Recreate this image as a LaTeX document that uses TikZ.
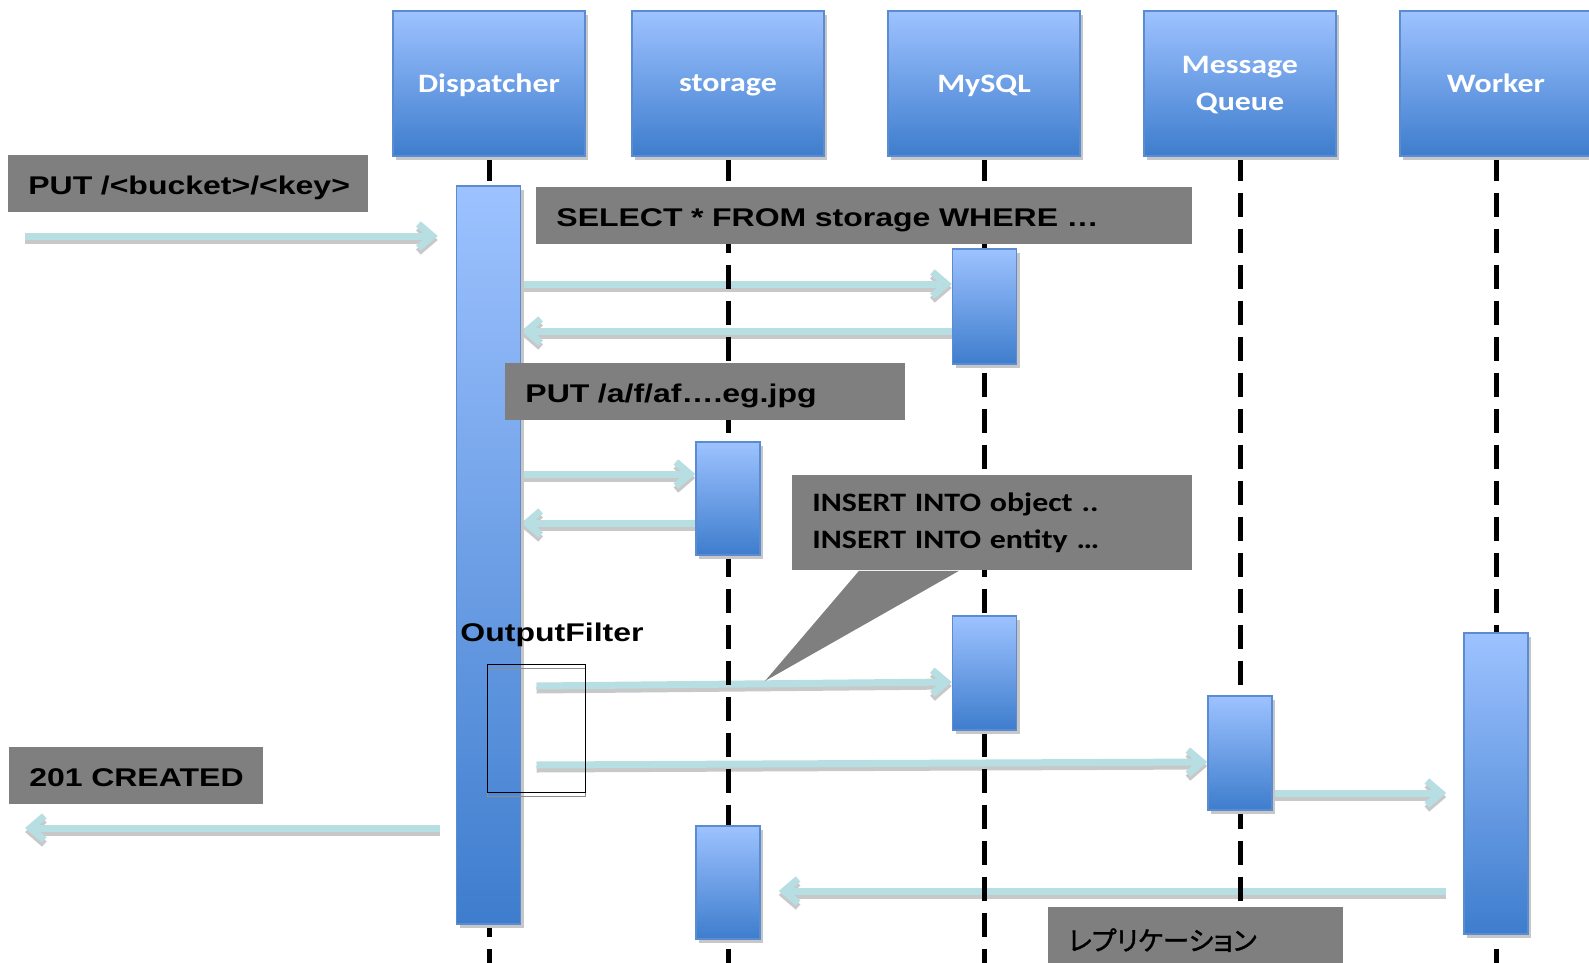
\documentclass[tikz,border=0pt]{standalone}
\usepackage{fontspec}
\setmainfont{Liberation Sans}[FakeStretch=1.25]
\newfontfamily\calfont{Carlito}[FakeStretch=1.2]
\newfontfamily\jpfont{Noto Sans CJK JP}[RawFeature=+palt, FakeBold=1.2]
\usetikzlibrary{arrows.meta,shadows,calc}
\definecolor{headtop}{RGB}{157,194,255}
\definecolor{headbot}{RGB}{62,125,205}
\definecolor{boxline}{RGB}{91,140,210}
\definecolor{lblgray}{RGB}{127,127,127}
\definecolor{msgcyan}{RGB}{183,222,226}
\definecolor{msgshadow}{RGB}{200,200,200}
\pgfdeclarelayer{back}
\pgfsetlayers{back,main}
\newcommand\msgarrow[2]{%
    \draw[msg, draw=msgshadow, transform canvas={yshift=-2pt}] #1 -- #2;
    \draw[msg] #1 -- #2;}
\begin{document}
\begin{tikzpicture}[x=0.5pt, y=-0.5pt,
    head/.style={rectangle, draw=boxline, line width=0.75pt, top color=headtop, bottom color=headbot,
        minimum width=96pt, minimum height=72.5pt, text=white, align=center, text depth=0pt,
        font=\calfont\bfseries\fontsize{13.3}{18.5}\selectfont,
        drop shadow={shadow xshift=1.5pt, shadow yshift=-2pt, fill=black!22, opacity=1}},
    act/.style={rectangle, draw=boxline, line width=0.75pt, top color=headtop, bottom color=headbot,
        minimum width=32pt, inner sep=0pt,
        drop shadow={shadow xshift=1.5pt, shadow yshift=-2pt, fill=black!22, opacity=1}},
    lbl/.style={fill=lblgray, anchor=north west, inner xsep=10pt, inner ysep=0pt, align=left,
        text height=10.5pt, text depth=0pt, font=\bfseries\fontsize{12.8}{15}\selectfont},
    msg/.style={line width=3.5pt, draw=msgcyan, -{Straight Barb[length=7pt,width=12pt]}},
    life/.style={line width=2.5pt, dash pattern=on 12pt off 6pt}]
    \useasboundingbox (0,0) rectangle (1589,963);
    \foreach \x/\n/\t in {489/disp/Dispatcher,728/stor/storage,984/sql/MySQL,1240/mq/{Message\\Queue},1496/wrk/Worker}
        \node[head] (\n) at (\x,83.5) {\t};
    \node[act, minimum height=369pt] (dispAct) at (488.5,555) {};
    \node[act, minimum height=57.5pt] (sqlAct1) at (984.5,306.5) {};
    \node[act, minimum height=56.5pt] (storAct1) at (728,498.5) {};
    \node[act, minimum height=57pt] (sqlAct2) at (984.5,673) {};
    \node[act, minimum height=57pt] (mqAct) at (1240,753) {};
    \node[act, minimum height=150.5pt] (wrkAct) at (1496,783.5) {};
    \node[act, minimum height=56.5pt] (storAct2) at (728,882.5) {};
    \node[lbl, text width=160pt, minimum height=28.5pt] (putLbl) at (8,155) {\mbox{PUT /<bucket>/<key>}};
    \node[lbl, text width=308pt, minimum height=28.5pt] (selLbl) at (536,187) {SELECT * FROM storage WHERE …};
    \node[lbl, text width=180pt, minimum height=28.5pt] (getLbl) at (505,363) {PUT /a/f/af….eg.jpg};
    \node[lbl, text width=180pt, minimum height=47.5pt, text height=, text depth=,
        font=\calfont\bfseries\fontsize{13.3}{18.5}\selectfont]
        (insLbl) at (792,475) {INSERT INTO object ..\\INSERT INTO entity …};
    \coordinate (insTip) at (765,681);
    \fill[lblgray] ([xshift=33.5pt]insLbl.south west) -- ([xshift=83.5pt]insLbl.south west) -- (insTip) -- cycle;
    \node[lbl, text width=107pt, minimum height=28.5pt] (crtLbl) at (9,747) {\mbox{201 CREATED}};
    \node[lbl, text width=127.5pt, minimum height=32pt, text height=11pt,
        font=\jpfont\fontsize{13.3}{15}\selectfont]
        (repLbl) at (1048,907) {レプリケーション};
    \node[font=\bfseries\fontsize{12.8}{15}\selectfont, inner sep=0pt] (ofLbl) at (552,635) {OutputFilter};
    \node[minimum width=48.5pt, minimum height=63.5pt, inner sep=0pt] (ofBox) at (536.5,728.5) {};
    \draw[black!45, line width=0.75pt, transform canvas={yshift=-2pt}] (ofBox.north west) rectangle (ofBox.south east);
    \draw[line width=0.75pt] (ofBox.north west) rectangle (ofBox.south east);
    \begin{pgfonlayer}{back}
        \coordinate (cIn) at (25,236);
        \coordinate (cOut) at (25,828);
        \msgarrow{(cIn)}{($(dispAct.west |- cIn)+(-9pt,0)$)}
        \msgarrow{(dispAct.east |- 0,284)}{(sqlAct1.west |- 0,284)}
        \msgarrow{(sqlAct1.west |- 0,331)}{(dispAct.east |- 0,331)}
        \msgarrow{(dispAct.east |- 0,474)}{(storAct1.west |- 0,474)}
        \msgarrow{(storAct1.west |- 0,523)}{(dispAct.east |- 0,523)}
        \msgarrow{(ofBox.center |- 0,686)}{(sqlAct2.west |- 0,682)}
        \msgarrow{(ofBox.center |- 0,765)}{(mqAct.west |- 0,762)}
        \msgarrow{(mqAct.east |- 0,793)}{($(wrkAct.west |- 0,793)+(-8.5pt,0)$)}
        \msgarrow{($(dispAct.west |- cOut)+(-8pt,0)$)}{(cOut)}
        \msgarrow{($(wrkAct.west |- 0,891)+(-8.5pt,0)$)}{($(storAct2.east |- 0,891)+(9pt,0)$)}
        \foreach \n in {disp,stor,sql,mq,wrk}
            \draw[life] (\n.south) -- (\n.south |- 0,963);
    \end{pgfonlayer}
\end{tikzpicture}
\end{document}
